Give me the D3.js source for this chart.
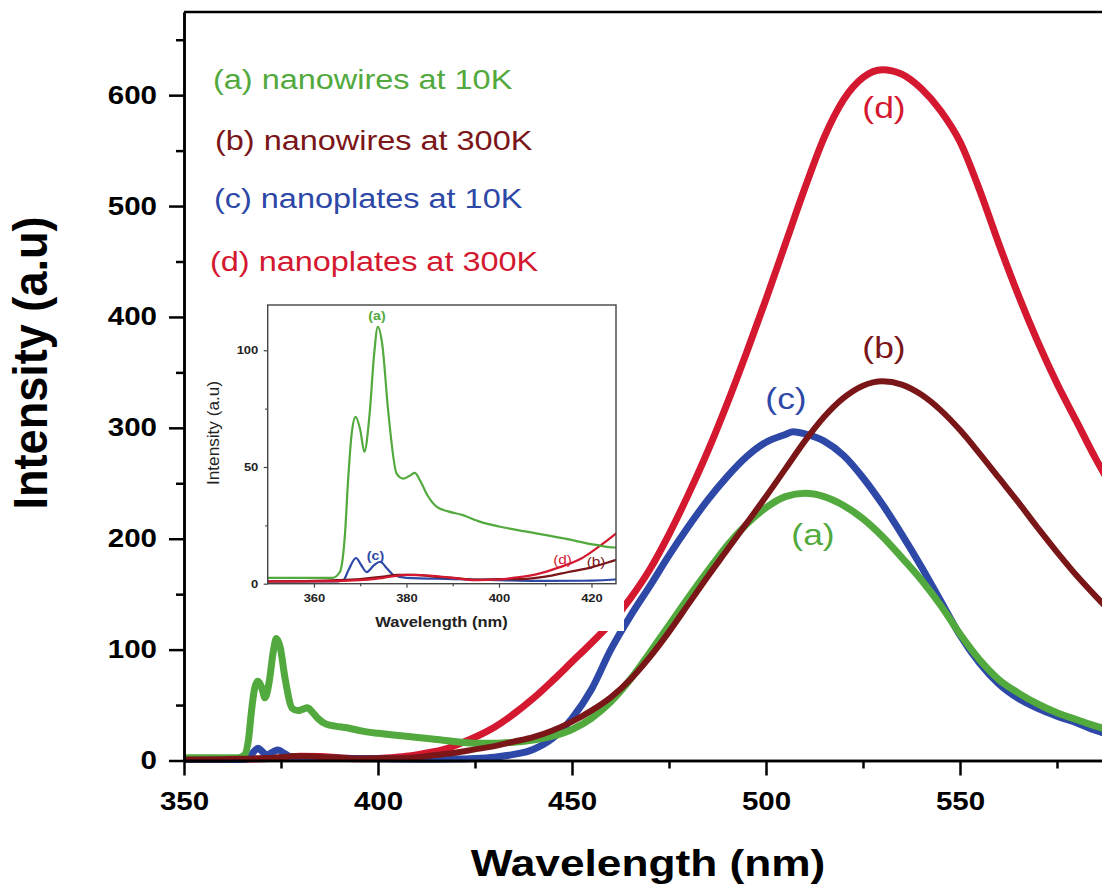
<!DOCTYPE html>
<html>
<head>
<meta charset="utf-8">
<script src="https://cdn.jsdelivr.net/npm/d3@7"></script>
<style>
  body { margin: 0; background: #fff; }
  svg { display: block; }
  text { font-family: "Liberation Sans", Arial, sans-serif; }
</style>
</head>
<body>
<svg id="chart" width="1102" height="886"></svg>
<script>
// PL spectra: wavelength (nm) and intensity (a.u)
const wlA = [350, 355, 360, 364, 365.6, 366.7, 367.4, 368.2, 369, 370, 370.9, 372, 373, 373.8, 374.8, 376, 377.9, 379.3, 380.5, 381.8, 383, 384.5, 386.5, 389, 392, 396, 400, 406, 414, 421, 425,
  430, 435, 440, 445, 450, 455, 460, 465, 470, 475, 480, 485, 490, 495, 500, 505, 510, 515, 520, 525, 530, 535, 540, 545, 550, 555, 560, 565, 570, 575, 580, 585, 590, 595, 600];
const intA = [2.5, 2.5, 2.5, 2.5, 5, 21, 45, 65, 71.5, 66, 56.5, 72, 98, 110, 102, 75, 47, 45, 46, 47.5, 44, 38, 33, 31, 29.5, 26.5, 24.5, 22.3, 19.4, 16.6, 15.5,
  15.5, 16.5, 18.5, 22, 28, 38, 53, 73, 97, 122, 147, 171, 194, 213, 228, 238, 241, 238, 230, 218, 202, 183, 163, 140, 114, 91, 73, 61, 51, 43, 37, 31, 26, 22, 19];

const wlB = [350, 360, 365, 370, 375, 378, 382, 386, 390, 395, 400, 405, 410, 415,
  420, 425, 430, 435, 440, 445, 450, 455, 460, 465, 470, 475, 480, 485, 490, 495, 500, 505, 510, 515, 520, 525, 530, 535, 540, 545, 550, 555, 560, 565, 570, 575, 580, 585, 590, 595, 600];
const intB = [1, 1.2, 1.5, 2, 3, 3.8, 3.8, 3, 2.5, 1.8, 2, 2, 3, 5,
  7, 10, 13, 17, 21, 27, 35, 45, 57, 73, 93, 116, 141, 166, 190, 214, 238, 263, 288, 310, 327, 338, 342, 339, 330, 316, 298, 277, 255, 233, 210, 188, 167, 148, 130, 114, 100];

const wlC = [350, 360, 365, 366.4, 367.5, 369.1, 370.2, 371.4, 373, 374.3, 375.8, 377.2, 380, 390, 400, 410, 420,
  425, 430, 435, 440, 445, 450, 455, 460, 465, 470, 475, 480, 485, 490, 495, 500, 505, 507, 510, 515, 520, 525, 530, 535, 540, 545, 550, 555, 560, 565, 570, 575, 580, 585, 590, 595, 600];
const intC = [1, 1, 1, 1.6, 6, 11, 8, 5, 8, 9.4, 6.5, 3.7, 2.5, 2, 1.5, 1.2, 1.3,
  1.8, 3, 5.5, 10, 20, 38, 64, 100, 130, 157, 185, 211, 235, 256, 274, 287, 294, 296.5, 294.5, 288, 275, 255, 231, 204, 175, 144, 113, 88, 69, 56, 47, 40, 34, 27, 22, 18, 15];

const wlD = [350, 360, 370, 375, 380, 385, 390, 395, 400, 403, 408, 413, 418, 421, 425,
  430, 435, 440, 445, 450, 455, 460, 465, 470, 475, 480, 485, 490, 495, 500, 505, 510, 515, 520, 525, 530, 535, 540, 545, 550, 555, 560, 565, 570, 575, 580, 585, 590, 595, 600];
const intD = [1, 1, 1.5, 2.5, 3.8, 3.5, 2.5, 1.5, 1.8, 2.5, 4, 7, 11, 15, 21,
  30, 42, 56, 72, 89, 106, 124, 146, 172, 204, 240, 279, 322, 368, 416, 466, 516, 562, 596, 616, 623, 619, 606, 586, 558, 515, 466, 420, 378, 340, 306, 272, 242, 215, 192];

const legendLabels = ["(a) nanowires at 10K", "(b) nanowires at 300K", "(c) nanoplates at 10K", "(d) nanoplates at 300K"];
const curveTags = ["(a)", "(b)", "(c)", "(d)"];

const xTicksMain = [350, 400, 450, 500, 550];
const xMinorMain = [375, 425, 475, 525, 575];
const yTicksMain = [0, 100, 200, 300, 400, 500, 600];
const yMinorMain = [50, 150, 250, 350, 450, 550, 650];
const xTicksInset = [360, 380, 400, 420];
const xMinorInset = [370, 390, 410];
const yTicksInset = [0, 50, 100];
const yMinorInset = [25, 75];

// the original figure is a bit wider than tall, text looks stretched sideways
const SX = 1.18;

class SpectraChart {
  constructor(_config, _data) {
    this.config = {
      parentElement: _config.parentElement,
    };
    this.data = _data;
    this.initVis();
  }

  initVis() {
    let vis = this;
    vis.svg = d3.select(vis.config.parentElement);

    // main plot scales (right part of the frame is cut off by the picture)
    vis.x = d3.scaleLinear().domain([350, 600]).range([184, 1154]);
    vis.y = d3.scaleLinear().domain([0, 675]).range([760.5, 12]);

    // inset scales
    vis.ix = d3.scaleLinear().domain([350, 425.3]).range([267.7, 616]);
    vis.iy = d3.scaleLinear().domain([0, 119.4]).range([583.7, 305]);

    const defs = vis.svg.append("defs");
    defs.append("clipPath").attr("id", "mainClip")
      .append("rect").attr("x", 184).attr("y", 0).attr("width", 970).attr("height", 790);
    defs.append("clipPath").attr("id", "insetClip")
      .append("rect").attr("x", vis.ix(350)).attr("y", vis.iy(119.4))
      .attr("width", vis.ix(425.3) - vis.ix(350)).attr("height", vis.iy(0) - vis.iy(119.4));

    vis.renderVis();
  }

  renderVis() {
    let vis = this;
    const svg = vis.svg;

    // ---- main curves
    const line = d3.line()
      .x((d) => vis.x(d[0]))
      .y((d) => vis.y(d[1]))
      .curve(d3.curveMonotoneX);

    const drawOrder = ["d", "c", "a", "b"];
    svg.append("g").attr("clip-path", "url(#mainClip)")
      .selectAll("path")
      .data(drawOrder.map((k) => vis.data.find((s) => s.key === k)))
      .join("path")
      .attr("fill", "none")
      .attr("stroke", (d) => d.color)
      .attr("stroke-width", (d) => (d.key === "b" ? 6 : 7))
      .attr("stroke-linejoin", "round")
      .attr("d", (d) => line(d.wl.map((w, i) => [w, d.val[i]])));

    // ---- main axes
    const axisStyle = (g) => {
      g.selectAll("line,path").attr("stroke", "#000").attr("stroke-width", 2.5);
      g.selectAll("text").attr("fill", "#000").attr("font-size", 25).attr("font-weight", "bold")
        .attr("font-family", "'Liberation Sans', Arial, sans-serif");
    };

    svg.append("g").attr("transform", `translate(0,${vis.y(0)})`)
      .call(d3.axisBottom(vis.x).tickValues(xMinorMain).tickSize(8).tickSizeOuter(0).tickFormat(""))
      .call(axisStyle);
    svg.append("g").attr("transform", `translate(0,${vis.y(0)})`)
      .call(d3.axisBottom(vis.x).tickValues(xTicksMain).tickSize(15).tickSizeOuter(0).tickFormat(d3.format("d")))
      .call(axisStyle)
      .call((g) => g.selectAll("text").attr("y", 32).attr("transform", `scale(${SX},1)`));

    svg.append("g").attr("transform", `translate(${vis.x(350)},0)`)
      .call(d3.axisLeft(vis.y).tickValues(yMinorMain).tickSize(8).tickSizeOuter(0).tickFormat(""))
      .call(axisStyle);
    svg.append("g").attr("transform", `translate(${vis.x(350)},0)`)
      .call(d3.axisLeft(vis.y).tickValues(yTicksMain).tickSize(15).tickSizeOuter(0).tickFormat(d3.format("d")))
      .call(axisStyle)
      .call((g) => g.selectAll("text").attr("x", -27 / SX).attr("transform", `scale(${SX},1)`));

    // top frame line
    svg.append("line")
      .attr("x1", vis.x(350)).attr("x2", vis.x(600))
      .attr("y1", vis.y(675)).attr("y2", vis.y(675))
      .attr("stroke", "#000").attr("stroke-width", 2.5);

    // axis titles
    svg.append("text")
      .attr("transform", `translate(648,876) scale(${SX},1)`)
      .attr("text-anchor", "middle")
      .attr("font-size", 37.5).attr("font-weight", "bold")
      .text("Wavelength (nm)");

    svg.append("text")
      .attr("transform", `translate(47,363) rotate(-90) scale(1,${SX})`)
      .attr("text-anchor", "middle")
      .attr("font-size", 40).attr("font-weight", "bold")
      .attr("textLength", 293).attr("lengthAdjust", "spacingAndGlyphs")
      .text("Intensity (a.u)");

    // legend text block
    const legendPos = [[213, 89], [215, 150], [214, 208], [210, 271]];
    svg.append("g").selectAll("text")
      .data(vis.data)
      .join("text")
      .attr("transform", (d, i) => `translate(${legendPos[i][0]},${legendPos[i][1]}) scale(${SX},1)`)
      .attr("font-size", 27.5)
      .attr("fill", (d) => d.color)
      .text((d, i) => legendLabels[i]);

    // labels next to the peaks
    const tagPos = [[813, 545], [884, 358], [786, 409], [884, 118]];
    svg.append("g").selectAll("text")
      .data(vis.data)
      .join("text")
      .attr("transform", (d, i) => `translate(${tagPos[i][0]},${tagPos[i][1]}) scale(${SX},1)`)
      .attr("text-anchor", "middle")
      .attr("font-size", 30)
      .attr("fill", (d) => d.color)
      .text((d, i) => curveTags[i]);

    // ---- inset
    const inset = svg.append("g");
    inset.append("rect")
      .attr("x", 190).attr("y", 292).attr("width", 434).attr("height", 339)
      .attr("fill", "#fff");

    const iline = d3.line()
      .x((d) => vis.ix(d[0]))
      .y((d) => vis.iy(d[1]))
      .curve(d3.curveMonotoneX);

    const insetOrder = ["c", "b", "d", "a"];
    inset.append("g").attr("clip-path", "url(#insetClip)")
      .selectAll("path")
      .data(insetOrder.map((k) => vis.data.find((s) => s.key === k)))
      .join("path")
      .attr("fill", "none")
      .attr("stroke", (d) => d.color)
      .attr("stroke-width", 2.2)
      .attr("stroke-linejoin", "round")
      .attr("d", (d) => iline(d.wl.filter((w) => w <= 432).map((w, i) => [w, d.val[i]])));

    inset.append("rect")
      .attr("x", vis.ix(350)).attr("y", vis.iy(119.4))
      .attr("width", vis.ix(425.3) - vis.ix(350)).attr("height", vis.iy(0) - vis.iy(119.4))
      .attr("fill", "none").attr("stroke", "#444").attr("stroke-width", 1.4);

    const insetAxisStyle = (g) => {
      g.select(".domain").remove();
      g.selectAll("line").attr("stroke", "#444").attr("stroke-width", 1.2);
      g.selectAll("text").attr("fill", "#222").attr("font-size", 11).attr("font-weight", "bold")
        .attr("font-family", "'Liberation Sans', Arial, sans-serif");
    };

    inset.append("g").attr("transform", `translate(0,${vis.iy(0)})`)
      .call(d3.axisBottom(vis.ix).tickValues(xMinorInset).tickSize(2.5).tickFormat(""))
      .call(insetAxisStyle);
    inset.append("g").attr("transform", `translate(0,${vis.iy(0)})`)
      .call(d3.axisBottom(vis.ix).tickValues(xTicksInset).tickSize(4).tickFormat(d3.format("d")))
      .call(insetAxisStyle)
      .call((g) => g.selectAll("text").attr("y", 10.5).attr("transform", `scale(${SX},1)`));
    inset.append("g").attr("transform", `translate(0,0) translate(${vis.ix(350)},0)`)
      .call(d3.axisLeft(vis.iy).tickValues(yMinorInset).tickSize(2.5).tickFormat(""))
      .call(insetAxisStyle);
    inset.append("g").attr("transform", `translate(${vis.ix(350)},0)`)
      .call(d3.axisLeft(vis.iy).tickValues(yTicksInset).tickSize(4).tickFormat(d3.format("d")))
      .call(insetAxisStyle)
      .call((g) => g.selectAll("text").attr("x", -9.4 / SX).attr("transform", `scale(${SX},1)`));

    inset.append("text")
      .attr("transform", `translate(441.5,627) scale(${SX},1)`)
      .attr("text-anchor", "middle")
      .attr("font-size", 14).attr("font-weight", "bold").attr("fill", "#222")
      .text("Wavelength (nm)");

    inset.append("text")
      .attr("transform", `translate(219,433) rotate(-90) scale(1,${SX})`)
      .attr("text-anchor", "middle")
      .attr("font-size", 14).attr("fill", "#222")
      .attr("textLength", 104).attr("lengthAdjust", "spacingAndGlyphs")
      .text("Intensity (a.u)");

    // little tags inside the inset
    const insetTagPos = [[377, 320, "bold", 12], [596, 566, "normal", 13], [375.5, 560, "bold", 12], [562.5, 564, "normal", 13]];
    inset.append("g").selectAll("text")
      .data(vis.data)
      .join("text")
      .attr("transform", (d, i) => `translate(${insetTagPos[i][0]},${insetTagPos[i][1]}) scale(${SX},1)`)
      .attr("text-anchor", "middle")
      .attr("font-size", (d, i) => insetTagPos[i][3])
      .attr("font-weight", (d, i) => insetTagPos[i][2])
      .attr("fill", (d) => d.color)
      .text((d, i) => curveTags[i]);
  }
}

const spectra = [
  { key: "a", wl: wlA, val: intA, color: "#52a93d" },
  { key: "b", wl: wlB, val: intB, color: "#7a1518" },
  { key: "c", wl: wlC, val: intC, color: "#2d48a6" },
  { key: "d", wl: wlD, val: intD, color: "#d3182f" },
];

new SpectraChart({ parentElement: "#chart" }, spectra);
</script>
</body>
</html>
